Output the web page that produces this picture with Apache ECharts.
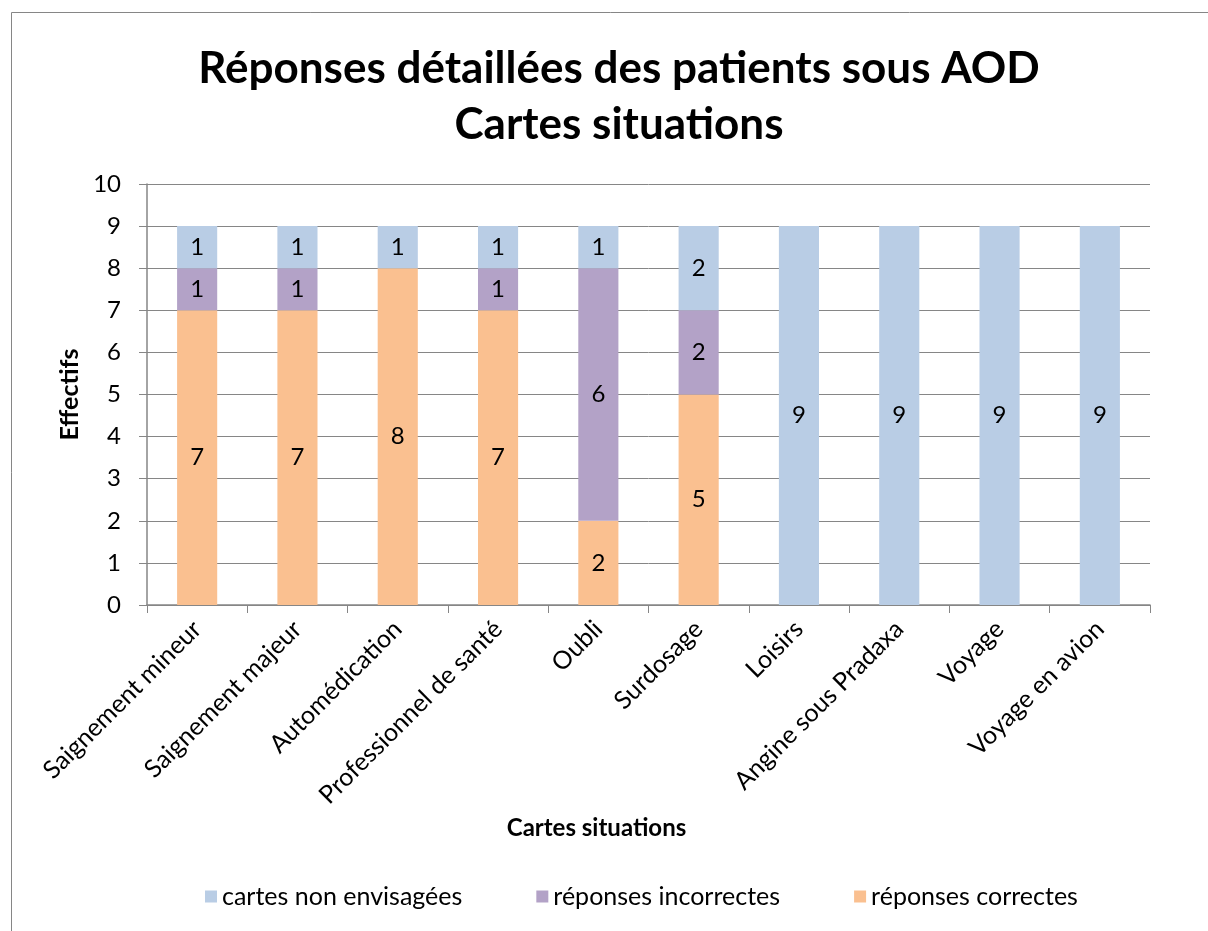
<!DOCTYPE html>
<html>
<head>
<meta charset="utf-8">
<script src="https://cdn.jsdelivr.net/npm/echarts@6/dist/echarts.min.js"></script>
<style>
  html, body { margin: 0; padding: 0; background: #fff; }
  #chart { width: 1208px; height: 931px; }
</style>
</head>
<body>
<div id="chart"></div>
<script>
// catégories (cartes situations)
const categories = [
    'Saignement mineur', 'Saignement majeur', 'Automédication', 'Professionnel de santé',
    'Oubli', 'Surdosage', 'Loisirs', 'Angine sous Pradaxa', 'Voyage', 'Voyage en avion'
];

// effectifs par type de réponse
const correctes = [7, 7, 8, 7, 2, 5, 0, 0, 0, 0];
const incorrectes = [1, 1, 0, 1, 6, 2, 0, 0, 0, 0];
const nonEnvisagees = [1, 1, 1, 1, 1, 2, 9, 9, 9, 9];

const FONT = 'Lato';
const GRAY = '#868686';

const chart = echarts.init(document.getElementById('chart'));

// étiquette au centre, masquée pour les zéros
const label = {
    show: true,
    position: 'inside',
    color: '#000',
    fontFamily: FONT,
    fontSize: 24,
    formatter: p => (p.value ? p.value : '')
};

function serie(name, data, color) {
    return {
        name: name,
        type: 'bar',
        stack: 'total',
        data: data,
        barWidth: '40%',
        itemStyle: { color: color },
        label: label
    };
}

const option = {
    animation: false,
    textStyle: { fontFamily: FONT },
    graphic: [{
        type: 'rect',
        silent: true,
        shape: { x: 11.5, y: 12.5, width: 1300, height: 1000 },
        style: { fill: 'none', stroke: GRAY, lineWidth: 1 }
    }],
    title: {
        text: 'Réponses détaillées des patients sous AOD\nCartes situations',
        left: 614,
        top: 36,
        textAlign: 'center',
        textStyle: {
            fontFamily: FONT,
            fontSize: 44,
            fontWeight: 'bold',
            color: '#000',
            lineHeight: 56
        }
    },
    legend: {
        data: ['cartes non envisagées', 'réponses incorrectes', 'réponses correctes'],
        top: 879,
        left: 200,
        itemWidth: 12,
        itemHeight: 12,
        itemGap: 74,
        icon: 'rect',
        textStyle: { fontFamily: FONT, fontSize: 25, color: '#000' }
    },
    grid: {
        left: 147,
        right: 58,
        top: 184,
        bottom: 326,
        containLabel: false
    },
    xAxis: {
        type: 'category',
        data: categories,
        name: 'Cartes situations',
        nameLocation: 'middle',
        nameGap: 211,
        nameTextStyle: {
            fontFamily: FONT, fontSize: 24, fontWeight: 'bold', color: '#000',
            padding: [0, 104, 0, 0]
        },
        axisLine: { lineStyle: { color: GRAY, width: 1.5 } },
        axisTick: { show: true, alignWithLabel: false, length: 8, lineStyle: { color: GRAY } },
        axisLabel: {
            rotate: 45,
            interval: 0,
            margin: 20,
            fontFamily: FONT,
            fontSize: 25,
            color: '#000'
        }
    },
    yAxis: {
        type: 'value',
        min: 0,
        max: 10,
        interval: 1,
        name: 'Effectifs',
        nameLocation: 'middle',
        nameGap: 64,
        nameRotate: 90,
        nameTextStyle: { fontFamily: FONT, fontSize: 25, fontWeight: 'bold', color: '#000' },
        axisLine: { show: true, lineStyle: { color: GRAY, width: 1.5 } },
        axisTick: { show: true, length: 8, lineStyle: { color: GRAY } },
        axisLabel: { fontFamily: FONT, fontSize: 24, color: '#000', margin: 26 },
        splitLine: { lineStyle: { color: GRAY, width: 1 } }
    },
    series: [
        serie('réponses correctes', correctes, '#FAC090'),
        serie('réponses incorrectes', incorrectes, '#B3A2C7'),
        serie('cartes non envisagées', nonEnvisagees, '#B9CDE5')
    ]
};

chart.setOption(option);
</script>
</body>
</html>
